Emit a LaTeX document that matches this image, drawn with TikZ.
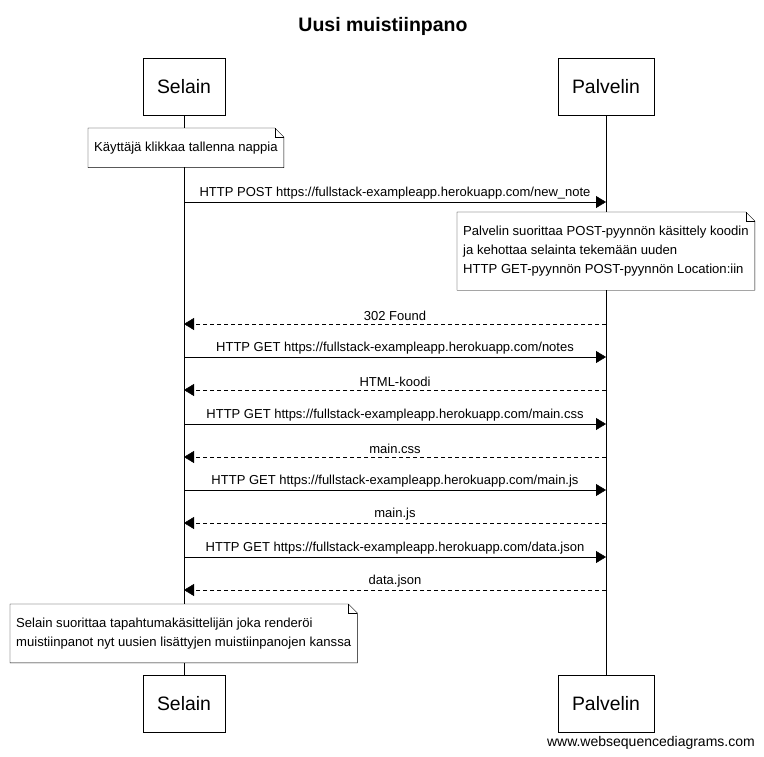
\documentclass[tikz,border=0pt]{standalone}
\usepackage{fontspec}
\setmainfont{Liberation Sans}
\usetikzlibrary{positioning,arrows.meta}

% folded corner outline for a note node
\newcommand\notefold[1]{%
  \draw ([xshift=-9pt]#1.north east) -- (#1.north west) -- (#1.south west)
    -- (#1.south east) -- ([yshift=-9pt]#1.north east) -- cycle;
  \draw ([xshift=-9pt]#1.north east) |- ([yshift=-9pt]#1.north east);}

\begin{document}
\begin{tikzpicture}[x=1pt, y=-1pt,
    actor/.style={draw, fill=white, minimum height=57pt, inner xsep=14pt, font=\fontsize{19.4}{21}\selectfont},
    note/.style={fill=white, align=left, inner xsep=6pt, inner ysep=13.5pt, font=\fontsize{13.1}{19.3}\selectfont},
    msg/.style={-{Triangle[length=10pt, width=12pt]}},
    reply/.style={msg, dash pattern=on 4pt off 3pt},
    lbl/.style={above, inner sep=3pt, font=\fontsize{13}{15}\selectfont}
  ]
  \useasboundingbox (0,0) rectangle (764,756);

  \node[font=\bfseries\fontsize{19.5}{21}\selectfont] (title) at (383,26.5) {Uusi muistiinpano};

  \node[actor] (selT) at (184,86.5) {Selain};
  \node[actor] (palT) at (606,86.5) {Palvelin};
  \node[actor] (selB) at (184,704) {Selain};
  \node[actor] (palB) at (606,704) {Palvelin};
  \draw (selT) -- (selB);
  \draw (palT) -- (palB);

  % message rows on the lifelines
  \foreach \y [count=\i] in {202,324,357,390,424,457,490,523,557,590} {
    \coordinate (s\i) at (selT |- 0,\y);
    \coordinate (p\i) at (palT |- 0,\y);
  }

  \draw[msg] (s1) -- node[lbl] {HTTP POST https://fullstack-exampleapp.herokuapp.com/new\_note} (p1);
  \draw[reply] (p2) -- node[lbl] {302 Found} (s2);
  \draw[msg] (s3) -- node[lbl] {HTTP GET https://fullstack-exampleapp.herokuapp.com/notes} (p3);
  \draw[reply] (p4) -- node[lbl] {HTML-koodi} (s4);
  \draw[msg] (s5) -- node[lbl] {HTTP GET https://fullstack-exampleapp.herokuapp.com/main.css} (p5);
  \draw[reply] (p6) -- node[lbl] {main.css} (s6);
  \draw[msg] (s7) -- node[lbl] {HTTP GET https://fullstack-exampleapp.herokuapp.com/main.js} (p7);
  \draw[reply] (p8) -- node[lbl] {main.js} (s8);
  \draw[msg] (s9) -- node[lbl] {HTTP GET https://fullstack-exampleapp.herokuapp.com/data.json} (p9);
  \draw[reply] (p10) -- node[lbl] {data.json} (s10);

  % notes
  \node[note, anchor=north west] (n1) at (88,128) {Käyttäjä klikkaa tallenna nappia};
  \notefold{n1}
  \node[note, anchor=north west] (n2) at (457,212)
    {Palvelin suorittaa POST-pyynnön käsittely koodin\\ja kehottaa selainta tekemään uuden\\HTTP GET-pyynnön POST-pyynnön Location:iin};
  \notefold{n2}
  \node[note, anchor=north west] (n3) at (10,604)
    {Selain suorittaa tapahtumakäsittelijän joka renderöi\\muistiinpanot nyt uusien lisättyjen muistiinpanojen kanssa};
  \notefold{n3}

  \node[anchor=base east, inner sep=0pt, font=\fontsize{14}{16}\selectfont] (wsd) at (755,746) {www.websequencediagrams.com};
\end{tikzpicture}
\end{document}
